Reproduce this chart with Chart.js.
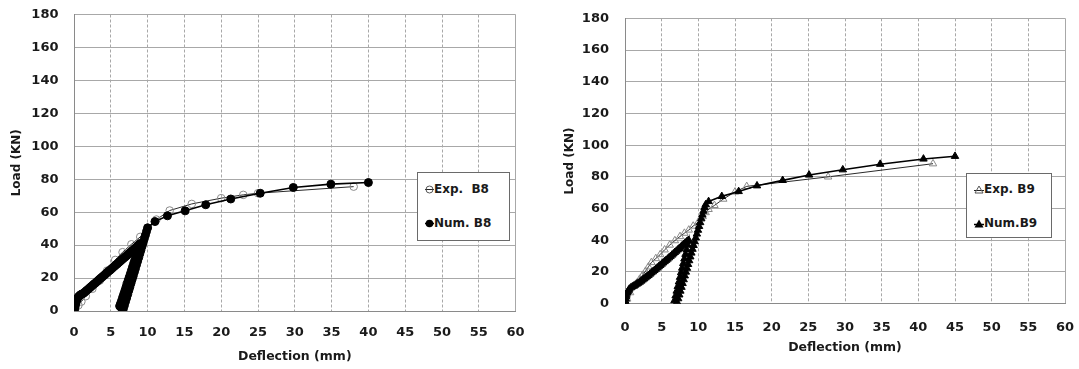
<!DOCTYPE html>
<html>
<head>
<meta charset="utf-8">
<script src="https://cdn.jsdelivr.net/npm/chart.js@4.4.1/dist/chart.umd.min.js"></script>
<style>
  html, body { margin: 0; padding: 0; background: #fff; }
  body { width: 1079px; height: 369px; position: relative; overflow: hidden; font-family: "DejaVu Sans", sans-serif; }
  .wrap { position: absolute; top: 0; }
  .legend { position: absolute; background: #fff; border: 1px solid #6a6a6a; box-sizing: border-box;
            font: bold 12px "DejaVu Sans", sans-serif; color: #1a1a1a; }
  .legend .row { position: absolute; left: 7px; display: flex; align-items: center; white-space: pre; }
  .legend svg { display: block; }
</style>
</head>
<body>
<div class="wrap" style="left:0px;width:530px;height:369px;"><canvas id="c1" width="530" height="369"></canvas></div>
<div class="wrap" style="left:540px;width:539px;height:369px;"><canvas id="c2" width="539" height="369"></canvas></div>

<div class="legend" style="left:417px;top:172px;width:93px;height:69px;">
  <div class="row" style="top:9px;"><svg width="9" height="9" viewBox="0 0 9 9"><line x1="0" y1="4.5" x2="9" y2="4.5" stroke="#222" stroke-width="1"/><circle cx="4.5" cy="4.5" r="3.5" fill="none" stroke="#555" stroke-width="1"/></svg><span>Exp.  B8</span></div>
  <div class="row" style="top:43px;"><svg width="9" height="9" viewBox="0 0 9 9"><line x1="0" y1="4.5" x2="9" y2="4.5" stroke="#000" stroke-width="1.5"/><circle cx="4.5" cy="4.5" r="3.8" fill="#000"/></svg><span>Num. B8</span></div>
</div>
<div class="legend" style="left:966px;top:173px;width:86px;height:65px;">
  <div class="row" style="top:8px;"><svg width="10" height="9" viewBox="0 0 10 9"><line x1="0" y1="5.5" x2="10" y2="5.5" stroke="#222" stroke-width="1"/><polygon points="5,1 9,8 1,8" fill="none" stroke="#555" stroke-width="1"/></svg><span>Exp. B9</span></div>
  <div class="row" style="top:42px;"><svg width="10" height="9" viewBox="0 0 10 9"><line x1="0" y1="5.5" x2="10" y2="5.5" stroke="#000" stroke-width="1.5"/><polygon points="5,0.5 9.5,8.5 0.5,8.5" fill="#000"/></svg><span>Num.B9</span></div>
</div>

<script>
// ---------- data ----------
const xTicks = [0,5,10,15,20,25,30,35,40,45,50,55,60];
const yTicks = [0,20,40,60,80,100,120,140,160,180];

// Beam B8 – experimental
const b8ExpX = [0, 0.2, 0.6, 1.0, 1.6, 2.5, 3.5, 4.5, 5.6, 6.6, 7.8, 9.0, 10.0, 11.2, 13.0, 16.0, 20.0, 23.0, 25.0, 38.0];
const b8ExpY = [0, 1.5, 3.5, 5.7, 9.0, 13.5, 18.5, 24.5, 31.0, 35.7, 40.5, 45.0, 50.5, 55.5, 61.0, 65.0, 68.5, 70.5, 71.5, 75.5];

// Beam B8 – numerical (loading, unloading, reloading, post-peak)
const b8NumX = [0, 0.05, 0.1, 0.15, 0.2, 0.25, 0.3, 0.4, 0.5, 0.6, 0.75, 0.9, 1.1, 1.3, 1.5, 1.7, 1.9, 2.1, 2.3, 2.5, 2.7, 2.9, 3.1, 3.3, 3.5, 3.7, 3.9, 4.1, 4.3, 4.5, 4.7, 4.9, 5.1, 5.3, 5.5, 5.7, 5.9, 6.1, 6.3, 6.5, 6.7, 6.9, 7.1, 7.3, 7.5, 7.7, 7.9, 8.1, 8.3, 8.5, 8.7, 8.85, 9.0,
                8.85, 8.7, 8.55, 8.4, 8.25, 8.1, 7.95, 7.8, 7.65, 7.5, 7.35, 7.2, 7.05, 6.9, 6.75, 6.6, 6.45, 6.3, 6.2, 6.45, 6.7,
                6.85, 7.0, 7.15, 7.3, 7.45, 7.6, 7.75, 7.9, 8.05, 8.2, 8.35, 8.5, 8.65, 8.8, 8.95, 9.1, 9.25, 9.4, 9.55, 9.7, 9.85, 10.0,
                11.0, 12.7, 15.1, 17.9, 21.3, 25.3, 29.8, 34.9, 40.0];
const b8NumY = [0, 1.0, 2.0, 3.0, 4.0, 5.0, 6.0, 7.0, 7.9, 8.6, 9.3, 9.9, 10.4, 10.8, 11.6, 12.4, 13.1, 13.9, 14.7, 15.5, 16.3, 17.0, 17.8, 18.6, 19.4, 20.2, 20.9, 21.7, 22.5, 23.3, 24.1, 24.8, 25.6, 26.4, 27.2, 28.0, 28.7, 29.5, 30.3, 31.1, 31.9, 32.6, 33.4, 34.2, 35.0, 35.8, 36.5, 37.3, 38.1, 38.9, 39.7, 40.3, 41.0,
                39.0, 37.0, 35.0, 33.0, 30.8, 28.8, 26.7, 24.6, 22.5, 20.5, 18.5, 16.4, 14.3, 12.2, 10.2, 8.2, 6.1, 4.2, 3.0, 1.8, 1.2,
                3.4, 5.7, 7.9, 10.1, 12.4, 14.6, 16.9, 19.1, 21.3, 23.6, 25.8, 28.1, 30.3, 32.5, 34.8, 37.0, 39.3, 41.5, 43.8, 46.0, 48.3, 50.5,
                54.3, 57.8, 60.8, 64.5, 68.0, 71.5, 75.0, 77.0, 78.0];

// Beam B9 – experimental
const b9ExpX = [0, 0.3, 0.7, 1.2, 1.6, 2.0, 2.4, 2.8, 3.2, 3.6, 4.2, 4.8, 5.4, 6.1, 6.8, 7.5, 8.1, 8.7, 9.3, 10.0, 10.6, 11.0, 11.4, 12.2, 13.4, 15.0, 16.6, 27.7, 42.0];
const b9ExpY = [0, 3.0, 7.0, 11.0, 13.0, 15.5, 18.0, 20.5, 23.3, 26.0, 28.5, 31.0, 34.0, 37.0, 39.8, 42.4, 44.5, 46.5, 49.0, 51.5, 55.0, 57.5, 59.5, 62.0, 66.0, 70.5, 74.0, 80.0, 88.3];

// Beam B9 – numerical (loading, unloading, reloading, post-peak)
const b9NumX = [0, 0.05, 0.1, 0.15, 0.2, 0.3, 0.4, 0.5, 0.6, 0.8, 1.0, 1.2, 1.4, 1.6, 1.8, 2.0, 2.2, 2.4, 2.6, 2.8, 3.0, 3.2, 3.4, 3.6, 3.8, 4.0, 4.2, 4.4, 4.6, 4.8, 5.0, 5.2, 5.4, 5.6, 5.8, 6.0, 6.2, 6.4, 6.6, 6.8, 7.0, 7.2, 7.4, 7.6, 7.8, 8.0, 8.2, 8.4, 8.6, 8.7,
                8.55, 8.4, 8.25, 8.1, 7.95, 7.8, 7.65, 7.5, 7.35, 7.2, 7.05, 6.9, 6.75, 7.1,
                7.25, 7.4, 7.55, 7.7, 7.85, 8.0, 8.15, 8.3, 8.45, 8.6, 8.75, 8.9, 9.05, 9.2, 9.35, 9.5, 9.65, 9.8, 9.95, 10.1, 10.25, 10.4, 10.55, 10.7, 10.85, 11.0,
                11.4, 13.2, 15.5, 18.0, 21.5, 25.1, 29.7, 34.8, 40.7, 45.0];
const b9NumY = [0, 1.5, 3.0, 4.5, 5.5, 6.8, 7.8, 8.6, 9.3, 10.1, 10.7, 11.2, 11.8, 12.4, 13.0, 13.6, 14.3, 15.0, 15.7, 16.4, 17.2, 17.9, 18.7, 19.5, 20.2, 21.0, 21.8, 22.6, 23.4, 24.2, 25.0, 25.8, 26.6, 27.4, 28.2, 29.0, 29.8, 30.7, 31.5, 32.4, 33.2, 34.0, 34.9, 35.7, 36.6, 37.4, 38.3, 39.1, 39.7, 40.0,
                37.0, 34.0, 31.2, 28.3, 25.4, 22.5, 19.6, 16.7, 13.8, 10.9, 8.0, 5.0, 2.0, 1.0,
                3.2, 5.6, 8.0, 10.4, 12.8, 15.2, 17.6, 20.0, 22.4, 24.8, 27.2, 29.6, 32.0, 34.4, 36.8, 39.2, 41.6, 44.0, 46.4, 48.8, 51.2, 53.6, 56.0, 58.4, 60.7, 62.5,
                64.5, 67.7, 70.8, 74.4, 77.8, 81.2, 84.5, 88.0, 91.3, 93.0];

// ---------- helpers ----------
const pts = (xs, ys) => xs.map((x, i) => ({ x: x, y: ys[i] }));
const FONT = '"DejaVu Sans", sans-serif';
const TXT = '#1a1a1a';
const CLEAR = 'rgba(0,0,0,0)';

function makeChart(id, exp, num, expLabel, numLabel, style, g) {
  const rExp = style === 'triangle' ? 4.3 : 3.8;
  const rNum = style === 'triangle' ? 4.3 : 4.0;
  return new Chart(document.getElementById(id), {
    type: 'scatter',
    data: {
      datasets: [
        { label: expLabel, data: exp, showLine: true, order: 1,
          borderColor: '#2a2a2a', borderWidth: 1,
          pointStyle: style, pointRadius: rExp,
          pointBorderColor: '#8a8a8a', pointBackgroundColor: 'rgba(255,255,255,0)', pointBorderWidth: 1 },
        { label: numLabel, data: num, showLine: true, order: 0,
          borderColor: '#000', borderWidth: 1.6,
          pointStyle: style, pointRadius: rNum,
          pointBorderColor: '#000', pointBackgroundColor: '#000', pointBorderWidth: 1 }
      ]
    },
    options: {
      responsive: false, animation: false,
      layout: { padding: { left: 0, right: g.padRight, top: g.padTop, bottom: 0 } },
      plugins: { legend: { display: false }, tooltip: { enabled: false } },
      scales: {
        x: {
          type: 'linear', min: 0, max: 60,
          afterBuildTicks: s => { s.ticks = xTicks.map(v => ({ value: v })); },
          afterFit: s => { s.height = g.xHeight; },
          ticks: { color: TXT, font: { family: FONT, size: 13, weight: 'bold' }, padding: 0, maxRotation: 0, autoSkip: false },
          grid: { color: '#a8a8a8', lineWidth: 1, drawTicks: true, tickLength: g.xTickGap, tickColor: CLEAR },
          border: { display: true, color: '#8a8a8a', width: 1,
                    dash: c => (c.tick && c.tick.value === 60) ? [] : [3, 2] },
          title: { display: true, text: 'Deflection (mm)', color: TXT,
                   font: { family: FONT, size: 12.5, weight: 'bold' }, padding: { top: 0, bottom: g.xTitlePad } }
        },
        y: {
          type: 'linear', min: 0, max: 180,
          afterBuildTicks: s => { s.ticks = yTicks.map(v => ({ value: v })); },
          afterFit: s => { s.width = g.yWidth; },
          ticks: { color: TXT, font: { family: FONT, size: 13, weight: 'bold' }, padding: 0 },
          grid: { color: '#a8a8a8', lineWidth: 1, drawTicks: true, tickLength: g.yTickGap, tickColor: CLEAR },
          border: { display: true, color: '#8a8a8a', width: 1 },
          title: { display: true, text: 'Load (KN)', color: TXT,
                   font: { family: FONT, size: 12, weight: 'bold' }, padding: { top: g.yTitlePad, bottom: 0 } }
        }
      }
    }
  });
}

makeChart('c1', pts(b8ExpX, b8ExpY), pts(b8NumX, b8NumY), 'Exp.  B8', 'Num. B8', 'circle',
  { padRight: 14.4, padTop: 14.5, xHeight: 58, yWidth: 74, xTickGap: 14, yTickGap: 15.5, xTitlePad: 4.5, yTitlePad: 10 });
makeChart('c2', pts(b9ExpX, b9ExpY), pts(b9NumX, b9NumY), 'Exp. B9', 'Num.B9', 'triangle',
  { padRight: 14, padTop: 18.3, xHeight: 65.3, yWidth: 85, xTickGap: 16, yTickGap: 16, xTitlePad: 13.3, yTitlePad: 23 });
</script>
</body>
</html>
